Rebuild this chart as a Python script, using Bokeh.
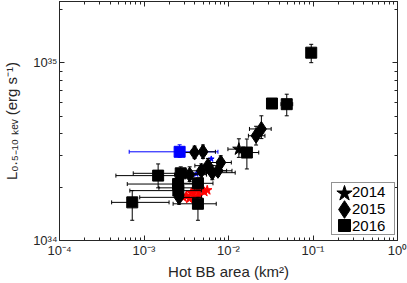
import math
import numpy as np
from bokeh.plotting import figure
from bokeh.models import (LogAxis, FixedTicker, CustomJSTickFormatter,
                          Legend, LegendItem, Range1d)
from bokeh.embed import file_html
from bokeh.resources import INLINE

NaN = None

# ---------------- data ----------------
# 2016 (squares): area (km^2), luminosity (erg/s) and error ranges
sq_x   = [0.0953, 0.0327, 0.0489, 0.0165, 1.47e-3, 7.26e-4, 4.35e-3, 2.72e-3, 2.53e-3, 4.35e-3, 2.55e-3]
sq_y   = [1.143e35, 5.91e34, 5.86e34, 3.13e34, 2.32e34, 1.64e34, 1.61e34, 2.39e34, 2.08e34, 2.10e34, 1.91e34]
sq_xlo = [NaN, NaN, 0.0418, 0.01337, 4.65e-4, 4.14e-4, 2.21e-3, 7.46e-4, 6.34e-4, 2.77e-3, 6.8e-4]
sq_xhi = [NaN, NaN, 0.0575, 0.0228, 2.8e-3, 1.98e-3, 7.16e-3, 5.46e-3, 4.16e-3, 6.55e-3, 4.77e-3]
sq_ylo = [1.004e35, NaN, 5.04e34, 2.53e34, 1.98e34, 1.30e34, 1.30e34, 2.20e34, 1.90e34, 1.95e34, 1.80e34]
sq_yhi = [1.274e35, NaN, 6.67e34, 3.73e34, 2.70e34, 1.91e34, 1.75e34, 2.60e34, 2.30e34, 2.25e34, 2.02e34]

# 2016 highlighted point (blue square)
bsq_x, bsq_y = [2.64e-3], [3.16e34]
bsq_xlo, bsq_xhi = [6.68e-4], [7.5e-3]
bsq_ylo, bsq_yhi = [2.94e34], [3.46e34]

# 2015 (diamonds)
di_x   = [0.0245, 0.0212, 3.97e-3, 4.99e-3, 8.1e-3, 7.5e-3, 5.71e-3, 4.77e-3, 3.47e-3, 2.6e-3, 6.43e-3, 2.55e-3]
di_y   = [4.25e34, 3.89e34, 3.13e34, 3.16e34, 2.75e34, 2.47e34, 2.64e34, 2.47e34, 2.35e34, 1.75e34, 2.41e34, 1.98e34]
di_xlo = [0.0177, 0.0172, 3.0e-3, 3.6e-3, 6.0e-3, 5.5e-3, 4.0e-3, 3.2e-3, 2.3e-3, 8.9e-4, 4.5e-3, 1.5e-3]
di_xhi = [0.032, 0.027, 5.5e-3, 7.0e-3, 1.08e-2, 1.1e-2, 8.5e-3, 9.5e-3, 5.5e-3, 4.8e-3, 1.2e-2, 4.0e-3]
di_ylo = [3.75e34, 3.45e34, 2.9e34, 2.9e34, 2.5e34, 2.3e34, 2.4e34, 2.25e34, 2.15e34, 1.6e34, 2.2e34, 1.85e34]
di_yhi = [5.04e34, 4.4e34, 3.4e34, 3.45e34, 3.0e34, 2.7e34, 2.9e34, 2.7e34, 2.6e34, 1.9e34, 2.65e34, 2.12e34]

# 2014 (black star)
st_x, st_y = [0.01327], [3.27e34]
st_xlo, st_xhi = [0.00984], [0.01754]
st_ylo, st_yhi = [2.94e34], [3.74e34]

# red stars
rs_x = [3.17e-3, 3.63e-3, 4.16e-3, 4.77e-3, 3.44e-3, 3.94e-3, 4.51e-3, 5.17e-3, 2.92e-3, 5.6e-3]
rs_y = [1.79e34, 1.86e34, 1.91e34, 1.93e34, 1.72e34, 1.77e34, 1.81e34, 1.88e34, 1.75e34, 1.92e34]

# blue stars
bs_x = [6.25e-3, 4.16e-3]
bs_y = [2.88e34, 2.37e34]

x_ticks = [1e-4, 1e-3, 1e-2, 1e-1, 1.0]
y_ticks = [1e34, 1e35]
legend_labels = ["2014", "2015", "2016"]

# ---------------- figure ----------------
AX = "#262626"
FONT = "Liberation Sans"
W, H = 407, 283
BL, BR, BT, BB = 58, 10, 1, 43          # borders -> frame 58..397 x 1..240

p = figure(width=W, height=H, x_axis_type="log", y_axis_type="log",
           x_range=Range1d(1e-4, 1.0), y_range=Range1d(1e34, 2.22e35),
           output_backend="svg", toolbar_location=None,
           min_border_left=BL, min_border_right=BR, min_border_top=BT,
           min_border_bottom=BB)
p.xgrid.visible = False
p.ygrid.visible = False
p.outline_line_color = AX
p.background_fill_color = "white"
p.border_fill_color = "white"

x_minor = [m * t for t in x_ticks[:-1] for m in range(2, 10)]
y_minor = [m * 1e34 for m in range(2, 10)] + [2e35]

fmt_code = """
const e = Math.round(Math.log10(tick));
const sup = {'-':'\u207b','0':'\u2070','1':'\u00b9','2':'\u00b2','3':'\u00b3','4':'\u2074',
             '5':'\u2075','6':'\u2076','7':'\u2077','8':'\u2078','9':'\u2079'};
return '10' + String(e).split('').map(c => sup[c]).join('');
"""

def style_axis(ax, ticks, minor, labels=True):
    ax.ticker = FixedTicker(ticks=ticks, minor_ticks=minor)
    ax.axis_line_color = AX
    ax.major_tick_line_color = AX
    ax.minor_tick_line_color = AX
    ax.major_tick_in = 5
    ax.major_tick_out = 0
    ax.minor_tick_in = 3
    ax.minor_tick_out = 0
    ax.major_label_text_font = FONT
    ax.major_label_text_color = AX
    if labels:
        ax.formatter = CustomJSTickFormatter(code=fmt_code)
        ax.major_label_text_font_size = "13px"
        ax.major_label_standoff = 2
    else:
        ax.formatter = CustomJSTickFormatter(code="return ''")
        ax.major_label_text_font_size = "1px"
        ax.major_label_standoff = 0

style_axis(p.xaxis[0], x_ticks, x_minor)
style_axis(p.yaxis[0], y_ticks, y_minor)
for ax, lab, stand in [(p.xaxis[0], "Hot BB area (km\u00b2)", 2),
                       (p.yaxis[0], "L\u2080.\u2085\u208b\u2081\u2080 \u2096\u2091\u1d65 (erg s\u207b\u00b9)", 10)]:
    ax.axis_label = lab
    ax.axis_label_text_font = FONT
    ax.axis_label_text_font_size = "15px"
    ax.axis_label_text_font_style = "normal"
    ax.axis_label_text_color = AX
    ax.axis_label_standoff = stand

top_ax = LogAxis()
style_axis(top_ax, x_ticks, x_minor, labels=False)
p.add_layout(top_ax, "above")
right_ax = LogAxis()
style_axis(right_ax, y_ticks, y_minor, labels=False)
p.add_layout(right_ax, "right")

# ---------------- error bars helper ----------------
def errorbars(xs, ys, xlo, xhi, ylo, yhi, color):
    f = lambda a: np.array([np.nan if v is None else v for v in a], dtype=float)
    xs, ys, xlo, xhi, ylo, yhi = map(f, (xs, ys, xlo, xhi, ylo, yhi))
    p.segment(xlo, ys, xhi, ys, line_color=color, line_width=1)
    p.segment(xs, ylo, xs, yhi, line_color=color, line_width=1)
    p.scatter(np.concatenate([xlo, xhi]), np.concatenate([ys, ys]), marker="dash",
              size=4, angle=math.pi / 2, line_color=color, line_width=1)
    p.scatter(np.concatenate([xs, xs]), np.concatenate([ylo, yhi]), marker="dash",
              size=4, line_color=color, line_width=1)

# red stars (bottom)
p.scatter(rs_x, rs_y, marker="star", size=10, fill_color="red", line_color="red")

# blue square and blue stars
errorbars(bsq_x, bsq_y, bsq_xlo, bsq_xhi, bsq_ylo, bsq_yhi, "blue")
p.scatter(bs_x, bs_y, marker="star", size=6, fill_color="blue", line_color="blue")

# black error bars
errorbars(sq_x, sq_y, sq_xlo, sq_xhi, sq_ylo, sq_yhi, "black")
errorbars(di_x, di_y, di_xlo, di_xhi, di_ylo, di_yhi, "black")
errorbars(st_x, st_y, st_xlo, st_xhi, st_ylo, st_yhi, "black")

p.scatter(bsq_x, bsq_y, marker="square", size=11, fill_color="blue", line_color="blue")
r_di = p.scatter(di_x, di_y, marker="diamond", size=15, fill_color="black", line_color="black")
r_sq = p.scatter(sq_x, sq_y, marker="square", size=11, fill_color="black", line_color="black")
r_st = p.scatter(st_x, st_y, marker="star", size=13, fill_color="black", line_color="black")

# ---------------- legend ----------------
# framed legend carrying the labels (its own glyphs are invisible)
dummies = [p.scatter([], [], marker="square", fill_alpha=0, line_alpha=0) for _ in range(3)]
frame_leg = Legend(items=[LegendItem(label=lab, renderers=[d]) for lab, d in zip(legend_labels, dummies)],
                   location=(272, 5), glyph_width=18, glyph_height=15, label_height=15,
                   spacing=0, padding=dict(left=2, right=6, top=0, bottom=0),
                   label_standoff=0, label_width=36,
                   label_text_font=FONT, label_text_font_size="15px", label_text_color="black",
                   border_line_color=AX, border_line_width=1,
                   background_fill_color="white", background_fill_alpha=1)
p.add_layout(frame_leg, "center")

# big legend glyphs, one transparent legend each
for rend, box, loc in [(r_st, 40, (265, 27)), (r_di, 44, (263, 9)), (r_sq, 30, (270, 0))]:
    gl = Legend(items=[LegendItem(label=" ", renderers=[rend])], location=loc,
                glyph_width=box, glyph_height=box, padding=0, spacing=0,
                label_standoff=0, label_width=1, label_height=4,
                label_text_font_size="4px",
                border_line_alpha=0, background_fill_alpha=0)
    p.add_layout(gl, "center")

open("out.html", "w", encoding="utf-8").write(file_html(p, INLINE))
